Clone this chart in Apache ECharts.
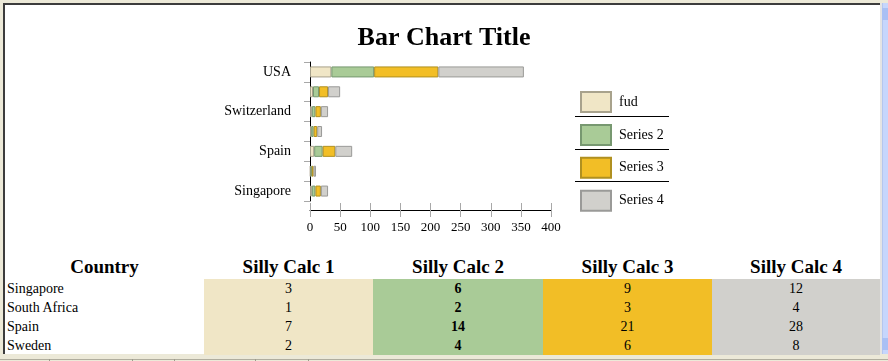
<!DOCTYPE html>
<html>
<head>
<meta charset="utf-8">
<script src="https://cdn.jsdelivr.net/npm/echarts@6/dist/echarts.min.js"></script>
<style>
  html, body { margin:0; padding:0; }
  body { width:888px; height:361px; background:#ECE9D8; position:relative; overflow:hidden; font-family:"Liberation Serif","Times New Roman",serif; }
  #frame { position:absolute; left:3px; top:3px; width:877px; height:351px; border-left:2px solid #3c3c3c; border-top:2px solid #3c3c3c; background:#fff; box-sizing:border-box; }
  #gutter { position:absolute; left:880px; top:3px; width:2px; height:351px; background:#e4e4e4; }
  #sb { position:absolute; left:882px; top:3px; width:6px; height:351px; background:#c6d6fc; border-left:1px solid #b4c6ee; box-sizing:border-box; }
  #sbup { position:absolute; left:882px; top:8px; width:6px; height:12px; background:#a9c0f4; }
  #sbdn { position:absolute; left:882px; top:338px; width:6px; height:12px; background:#a9c0f4; }
  #tabs { position:absolute; left:0; top:359px; width:888px; height:2px; border-top:1px solid #b0ad9e; }
  .tsep { position:absolute; top:359px; width:1px; height:3px; background:#9c9a8c; }
  #chart { position:absolute; left:0; top:0; width:888px; height:250px; }
  #tbl { position:absolute; left:5px; top:251px; width:875px; border-collapse:collapse; table-layout:fixed; }
  #tbl th { font-weight:bold; font-size:19px; height:25px; padding:3px 0 0 0; text-align:center; color:#000; }
  #tbl td { font-size:14px; height:19px; padding:0; text-align:center; color:#000; line-height:18px; }
  #tbl td.c { text-align:left; padding-left:2px; }
  #tbl td.b { font-weight:bold; }
</style>
</head>
<body>
<div id="frame"></div>
<div id="gutter"></div>
<div id="sb"></div><div id="sbup"></div><div id="sbdn"></div>
<div id="tabs"></div>
<div class="tsep" style="left:49px"></div>
<div class="tsep" style="left:132px"></div>
<div class="tsep" style="left:174px"></div>
<div class="tsep" style="left:255px"></div>
<div class="tsep" style="left:308px"></div>
<div id="chart"></div>
<table id="tbl">
  <colgroup><col style="width:199px"><col style="width:169px"><col style="width:170px"><col style="width:169px"><col style="width:168px"></colgroup>
  <thead><tr id="hdr"></tr></thead>
  <tbody id="tbody"></tbody>
</table>
<script>
var categories = ['Singapore', 'South Africa', 'Spain', 'Sweden', 'Switzerland', 'UK', 'USA'];
var seriesNames = ['fud', 'Series 2', 'Series 3', 'Series 4'];
var fud     = [3, 1, 7, 2, 3, 5, 35.5];
var series2 = [6, 2, 14, 4, 6, 10, 71];
var series3 = [9, 3, 21, 6, 9, 15, 106.5];
var series4 = [12, 4, 28, 8, 12, 20, 142];
var xTicks = [0, 50, 100, 150, 200, 250, 300, 350, 400];

var tableHeaders = ['Country', 'Silly Calc 1', 'Silly Calc 2', 'Silly Calc 3', 'Silly Calc 4'];
var tableCountries = ['Singapore', 'South Africa', 'Spain', 'Sweden'];
var calc1 = [3, 1, 7, 2];
var calc2 = [6, 2, 14, 4];
var calc3 = [9, 3, 21, 6];
var calc4 = [12, 4, 28, 8];

var fills   = ['#F0E6C6', '#A9CB97', '#F2BE26', '#D1D0CC'];
var borders = ['#A8A28C', '#779870', '#B09020', '#9A9A98'];
var serif = '"Liberation Serif", "Times New Roman", serif';

var allData = [fud, series2, series3, series4];
var series = seriesNames.map(function (n, i) {
  return {
    name: n, type: 'bar', stack: 'total', barWidth: 11,
    data: allData[i],
    itemStyle: { color: fills[i], borderColor: borders[i], borderWidth: 1 }
  };
});

var chart = echarts.init(document.getElementById('chart'), null, { renderer: 'canvas' });
chart.setOption({
  animation: false,
  title: {
    text: 'Bar Chart Title', left: 'center', top: 20,
    textStyle: { fontFamily: serif, fontWeight: 'bold', fontSize: 26, color: '#000' }
  },
  legend: {
    orient: 'vertical', left: 575, top: 86, padding: 5,
    itemWidth: 30, itemHeight: 20, itemGap: 10.9,
    icon: 'rect',
    data: seriesNames,
    textStyle: { fontFamily: serif, fontSize: 14, color: '#000', padding: [0, 0, 0, 3], lineHeight: 16 }
  },
  grid: { left: 310, width: 241, top: 62, height: 139, containLabel: false },
  xAxis: [{
    type: 'value', min: xTicks[0], max: xTicks[xTicks.length - 1], interval: 50,
    position: 'bottom', offset: 9,
    axisLine: { show: true, lineStyle: { color: '#000', width: 1 } },
    axisTick: { show: true, length: 7, lineStyle: { color: '#a8a8a8' } },
    axisLabel: { margin: 11, fontFamily: serif, fontSize: 13, color: '#000' },
    splitLine: { show: false }
  }, {
    type: 'value', min: xTicks[0], max: xTicks[xTicks.length - 1], interval: 50,
    position: 'bottom', offset: 9,
    axisLine: { show: false },
    axisTick: { show: true, inside: true, length: 7, lineStyle: { color: '#a8a8a8' } },
    axisLabel: { show: false },
    splitLine: { show: false }
  }],
  yAxis: {
    type: 'category', data: categories, offset: 8,
    axisLine: { show: true, lineStyle: { color: '#000', width: 1 } },
    axisTick: { show: true, length: 6, interval: 0, lineStyle: { color: '#a8a8a8' } },
    axisLabel: { interval: 1, margin: 11, fontFamily: serif, fontSize: 14, color: '#000' },
    splitLine: { show: false }
  },
  graphic: [116, 149, 181].map(function (y) {
    return { type: 'line', shape: { x1: 575, y1: y + 0.5, x2: 669, y2: y + 0.5 }, style: { stroke: '#000', lineWidth: 1 } };
  }),
  series: series
});

// table
var hdr = document.getElementById('hdr');
tableHeaders.forEach(function (h) { var th = document.createElement('th'); th.textContent = h; hdr.appendChild(th); });
var tb = document.getElementById('tbody');
var cols = [calc1, calc2, calc3, calc4];
tableCountries.forEach(function (c, r) {
  var tr = document.createElement('tr');
  var td = document.createElement('td'); td.className = 'c'; td.textContent = c; tr.appendChild(td);
  cols.forEach(function (arr, k) {
    var d = document.createElement('td');
    d.textContent = arr[r];
    d.style.background = fills[k];
    if (k === 1) d.className = 'b';
    tr.appendChild(d);
  });
  tb.appendChild(tr);
});
</script>
</body>
</html>
